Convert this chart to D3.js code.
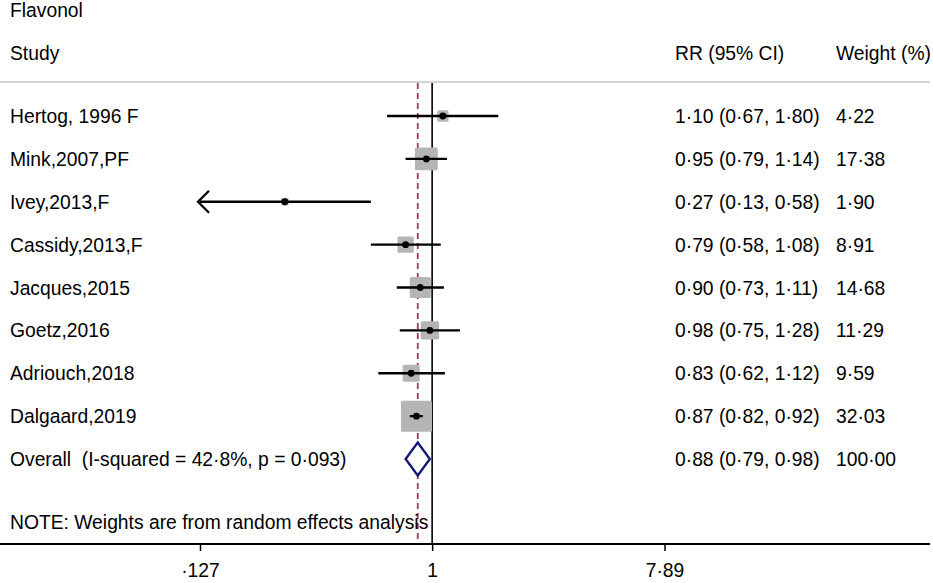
<!DOCTYPE html>
<html>
<head>
<meta charset="utf-8">
<script src="https://cdn.jsdelivr.net/npm/d3@7"></script>
<style>
  body { margin: 0; background: #fff; }
  svg text { font-family: "Liberation Sans", Arial, sans-serif; font-size: 19.3px; fill: #000; white-space: pre; }
</style>
</head>
<body>
<div id="forest"></div>
<script>
// Data
const studies = ["Hertog, 1996 F", "Mink,2007,PF", "Ivey,2013,F", "Cassidy,2013,F",
  "Jacques,2015", "Goetz,2016", "Adriouch,2018", "Dalgaard,2019"];
const rr = [1.10, 0.95, 0.27, 0.79, 0.90, 0.98, 0.83, 0.87];
const ciLow = [0.67, 0.79, 0.126, 0.58, 0.73, 0.75, 0.62, 0.82];
const ciHigh = [1.80, 1.14, 0.58, 1.08, 1.11, 1.28, 1.12, 0.92];
const weights = [4.22, 17.38, 1.90, 8.91, 14.68, 11.29, 9.59, 32.03];
const overallLabel = "Overall  (I-squared = 42·8%, p = 0·093)";
const overall = [0.88, 0.79, 0.98]; // RR, low, high
const overallWeight = 100.00;
const tickValues = [0.127, 1, 7.89];
const tickLabels = ["·127", "1", "7·89"];

const width = 933, height = 583;

const svg = d3.select("#forest")
  .append("svg")
    .attr("width", width)
    .attr("height", height);

// Scales
const xScale = d3.scaleLog()
  .domain([0.127, 7.89])
  .range([200, 664.5]);

const rows = studies.concat([overallLabel]);
const yScale = d3.scalePoint()
  .domain(d3.range(rows.length))
  .range([116, 459]);

const maxW = d3.max(weights);
const boxSize = d3.scaleSqrt()
  .domain([0, maxW])
  .range([0, 31]);

const fmt = v => d3.format(".2f")(v).replace(".", "·");

const plotTop = 83, axisY = 544;

// Headers
svg.append("text").attr("x", 10).attr("y", 17).text("Flavonol");
svg.append("text").attr("x", 10).attr("y", 60).text("Study");
svg.append("text").attr("x", 675).attr("y", 60).text("RR (95% CI)");
svg.append("text").attr("x", 836).attr("y", 60).text("Weight (%)");

svg.append("line")
  .attr("x1", 0).attr("x2", 930)
  .attr("y1", 82).attr("y2", 82)
  .attr("stroke", "#c4c4c4")
  .attr("stroke-width", 1.5);

// Reference lines
svg.append("line")
  .attr("x1", xScale(1)).attr("x2", xScale(1))
  .attr("y1", plotTop).attr("y2", axisY)
  .attr("stroke", "#000")
  .attr("stroke-width", 1.6);

svg.append("line")
  .attr("x1", xScale(overall[0])).attr("x2", xScale(overall[0]))
  .attr("y1", plotTop).attr("y2", axisY)
  .attr("stroke", "#a13a48")
  .attr("stroke-width", 1.8)
  .attr("stroke-dasharray", "6,4");

// Study rows
const [xMin, xMax] = xScale.domain();
studies.forEach((s, i) => {
  const y = yScale(i);
  const g = svg.append("g");
  const side = boxSize(weights[i]);

  g.append("rect")
    .attr("x", xScale(rr[i]) - side / 2)
    .attr("y", y - side / 2)
    .attr("width", side)
    .attr("height", side)
    .attr("rx", 1.5)
    .attr("fill", "#b5b5b5");

  const lo = Math.max(ciLow[i], xMin);
  const hi = Math.min(ciHigh[i], xMax);
  g.append("line")
    .attr("x1", xScale(lo)).attr("x2", xScale(hi))
    .attr("y1", y).attr("y2", y)
    .attr("stroke", "#000")
    .attr("stroke-width", 2.3);

  if (ciLow[i] < xMin) {
    const x0 = xScale(xMin) - 2;
    g.append("path")
      .attr("d", `M${x0 + 11},${y - 11}L${x0},${y}L${x0 + 11},${y + 11}`)
      .attr("fill", "none")
      .attr("stroke", "#000")
      .attr("stroke-width", 2.3);
  }

  g.append("circle")
    .attr("cx", xScale(rr[i]))
    .attr("cy", y)
    .attr("r", 3.4)
    .attr("fill", "#000");

  svg.append("text").attr("x", 10).attr("y", y + 7).text(s);
  svg.append("text").attr("x", 675).attr("y", y + 7)
    .text(`${fmt(rr[i])} (${fmt(ciLow[i])}, ${fmt(ciHigh[i])})`);
  svg.append("text").attr("x", 836).attr("y", y + 7).text(fmt(weights[i]));
});

// Overall diamond
const yo = yScale(studies.length);
svg.append("path")
  .attr("d", `M${xScale(overall[1])},${yo}L${xScale(overall[0])},${yo - 16.5}` +
    `L${xScale(overall[2])},${yo}L${xScale(overall[0])},${yo + 16.5}Z`)
  .attr("fill", "#fff")
  .attr("stroke", "#14147a")
  .attr("stroke-width", 2.3);

svg.append("text").attr("x", 10).attr("y", yo + 7).text(overallLabel);
svg.append("text").attr("x", 675).attr("y", yo + 7)
  .text(`${fmt(overall[0])} (${fmt(overall[1])}, ${fmt(overall[2])})`);
svg.append("text").attr("x", 836).attr("y", yo + 7).text(fmt(overallWeight));

svg.append("text").attr("x", 10).attr("y", 529)
  .text("NOTE: Weights are from random effects analysis");

// Bottom axis
const bottomAxis = d3.axisBottom(xScale)
  .tickValues(tickValues)
  .tickFormat((d, i) => tickLabels[i])
  .tickSize(7)
  .tickSizeOuter(0)
  .tickPadding(12);

const axis = svg.append("g")
  .attr("transform", `translate(0, ${axisY})`)
  .call(bottomAxis);
axis.select(".domain").remove();
axis.append("line")
  .attr("x1", 0).attr("x2", 930)
  .attr("stroke", "#000")
  .attr("stroke-width", 2);
axis.selectAll(".tick line").attr("stroke", "#000").attr("stroke-width", 1.5);
axis.selectAll(".tick text")
  .attr("fill", "#000")
  .style("font-family", "'Liberation Sans', Arial, sans-serif")
  .style("font-size", "19.3px");
</script>
</body>
</html>
